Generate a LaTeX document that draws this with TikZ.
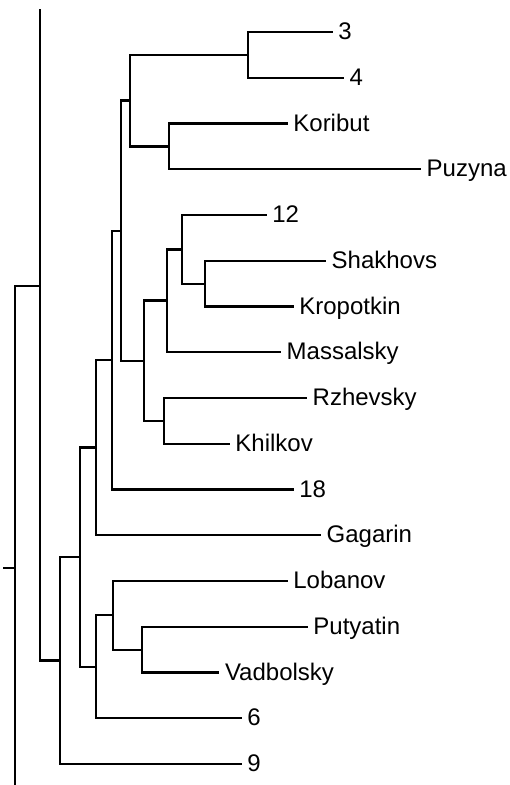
\documentclass[tikz,border=0pt]{standalone}
\usepackage{fontspec}
\setmainfont{Liberation Sans}
\begin{document}
\begin{tikzpicture}[x=1pt,y=-1pt,
  branch/.style={draw=black,line width=2.3pt,line cap=rect},
  lab/.style={anchor=base west,inner sep=0pt,xshift=6.5pt,yshift=-7.7pt,font=\fontsize{24}{26}\selectfont}]
\useasboundingbox (0,0) rectangle (510,785);
% leaf line ends
\def\ly#1{32+45.75*#1}
\coordinate (l3)  at (331.7,{\ly{0}});
\coordinate (l4)  at (343,{\ly{1}});
\coordinate (lKo) at (286.7,{\ly{2}});
\coordinate (lPu) at (420,{\ly{3}});
\coordinate (l12) at (265.7,{\ly{4}});
\coordinate (lSh) at (325,{\ly{5}});
\coordinate (lKr) at (292.7,{\ly{6}});
\coordinate (lMa) at (280,{\ly{7}});
\coordinate (lRz) at (306,{\ly{8}});
\coordinate (lKh) at (228.7,{\ly{9}});
\coordinate (l18) at (292.7,{\ly{10}});
\coordinate (lGa) at (320,{\ly{11}});
\coordinate (lLo) at (286.7,{\ly{12}});
\coordinate (lPt) at (306.7,{\ly{13}});
\coordinate (lVa) at (218.3,{\ly{14}});
\coordinate (l6)  at (240.7,{\ly{15}});
\coordinate (l9)  at (240.7,{\ly{16}});
% labels
\node[lab] (t3)  at (l3)  {3};
\node[lab] (t4)  at (l4)  {4};
\node[lab] (tKo) at (lKo) {Koribut};
\node[lab] (tPu) at (lPu) {Puzyna};
\node[lab] (t12) at (l12) {12};
\node[lab] (tSh) at (lSh) {Shakhovs};
\node[lab] (tKr) at (lKr) {Kropotkin};
\node[lab] (tMa) at (lMa) {Massalsky};
\node[lab] (tRz) at (lRz) {Rzhevsky};
\node[lab] (tKh) at (lKh) {Khilkov};
\node[lab] (t18) at (l18) {18};
\node[lab] (tGa) at (lGa) {Gagarin};
\node[lab] (tLo) at (lLo) {Lobanov};
\node[lab] (tPt) at (lPt) {Putyatin};
\node[lab] (tVa) at (lVa) {Vadbolsky};
\node[lab] (t6)  at (l6)  {6};
\node[lab] (t9)  at (l9)  {9};
% internal nodes
\coordinate (n34)  at (248,55);
\coordinate (nKP)  at (169,146.5);
\coordinate (nA)   at (130,100.5);
\coordinate (nSK)  at (205.3,283.7);
\coordinate (n182) at (182,249.5);
\coordinate (n167) at (167,300.5);
\coordinate (nRK)  at (164,420.7);
\coordinate (n144) at (144,361);
\coordinate (n121) at (121,230.75);
\coordinate (n112) at (112,360);
\coordinate (n96a) at (96,447.5);
\coordinate (nPV)  at (142.3,649.7);
\coordinate (n113) at (113.3,615.3);
\coordinate (n96b) at (96,667);
\coordinate (n80)  at (80,557);
\coordinate (n60)  at (60,660.5);
\coordinate (n40)  at (40,286);
\coordinate (n40top) at (40,10);
\coordinate (root) at (15,568);
\coordinate (rootbot) at (15,785);
\coordinate (rootin) at (4,568);
% branches
\draw[branch] (n34) |- (l3);  \draw[branch] (n34) |- (l4);
\draw[branch] (nKP) |- (lKo); \draw[branch] (nKP) |- (lPu);
\draw[branch] (nA) |- (n34);  \draw[branch] (nA) |- (nKP);
\draw[branch] (nSK) |- (lSh); \draw[branch] (nSK) |- (lKr);
\draw[branch] (n182) |- (l12); \draw[branch] (n182) |- (nSK);
\draw[branch] (n167) |- (n182); \draw[branch] (n167) |- (lMa);
\draw[branch] (nRK) |- (lRz); \draw[branch] (nRK) |- (lKh);
\draw[branch] (n144) |- (n167); \draw[branch] (n144) |- (nRK);
\draw[branch] (n121) |- (nA); \draw[branch] (n121) |- (n144);
\draw[branch] (n112) |- (n121); \draw[branch] (n112) |- (l18);
\draw[branch] (n96a) |- (n112); \draw[branch] (n96a) |- (lGa);
\draw[branch] (nPV) |- (lPt); \draw[branch] (nPV) |- (lVa);
\draw[branch] (n113) |- (lLo); \draw[branch] (n113) |- (nPV);
\draw[branch] (n96b) |- (n113); \draw[branch] (n96b) |- (l6);
\draw[branch] (n80) |- (n96a); \draw[branch] (n80) |- (n96b);
\draw[branch] (n60) |- (n80); \draw[branch] (n60) |- (l9);
\draw[branch] (n40) -- (n40top); \draw[branch] (n40) |- (n60);
\draw[branch] (root) |- (n40); \draw[branch] (root) -- (rootbot);
\draw[branch] (rootin) -- (root);
\end{tikzpicture}
\end{document}
